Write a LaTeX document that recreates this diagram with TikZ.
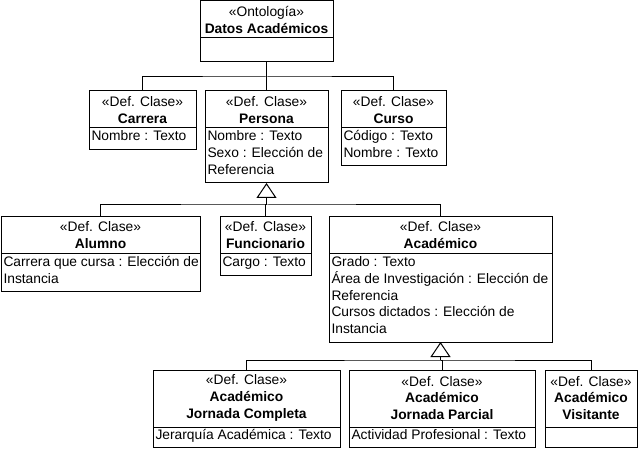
\documentclass[tikz,border=0pt]{standalone}
\usepackage{fontspec}
\setmainfont{Liberation Sans}
\usetikzlibrary{arrows.meta}
\begin{document}
\begin{tikzpicture}[x=1pt,y=-1pt,line width=1pt,
  box/.style={draw,inner sep=0pt,outer sep=0pt},
  t/.style={inner sep=0pt,font=\fontsize{13.8}{16.8}\selectfont,align=center},
  a/.style={inner sep=0pt,font=\fontsize{13.8}{16.8}\selectfont,align=left,anchor=north west},
  gen/.style={-{Triangle[open,length=15pt,width=20pt]}}]
\useasboundingbox (0,0) rectangle (640,449);
\newcommand\ubox[6]{\node[box,minimum width={#4-#2},minimum height={#5-#3}] (#1) at ({(#2+#4)/2},{(#3+#5)/2}) {};
 \draw (#2,#6) -- (#4,#6);}
\ubox{ont}{200}{1}{333}{62}{38}
\node[t] (ontt) at (266.5,20) {«Ontología»\\\textbf{Datos Académicos}};
\ubox{car}{89}{91}{196}{150}{128}
\node[t] (cart) at (142.5,110) {«Def. Clase»\\\textbf{Carrera}};
\node[a] (cara) at (91,130) {Nombre : Texto};
\ubox{per}{205}{91}{328}{183}{128}
\node[t] (pert) at (266.5,110) {«Def. Clase»\\\textbf{Persona}};
\node[a] (pera) at (207,130) {Nombre : Texto\\Sexo : Elección de\\Referencia};
\ubox{cur}{341}{91}{446}{166}{128}
\node[t] (curt) at (393.5,110) {«Def. Clase»\\\textbf{Curso}};
\node[a] (cura) at (343,130) {Código : Texto\\Nombre : Texto};
\ubox{alu}{1}{217}{200}{291}{254}
\node[t] (alut) at (100.5,235) {«Def. Clase»\\\textbf{Alumno}};
\node[a] (alua) at (3,256) {Carrera que cursa : Elección de\\Instancia};
\ubox{fun}{220}{217}{311}{275}{254}
\node[t] (funt) at (265.5,235) {«Def. Clase»\\\textbf{Funcionario}};
\node[a] (funa) at (222,256) {Cargo : Texto};
\ubox{aca}{329}{217}{552}{342}{254}
\node[t] (acat) at (440.5,235) {«Def. Clase»\\\textbf{Académico}};
\node[a] (acaa) at (331,256) {Grado : Texto\\Área de Investigación : Elección de\\Referencia\\Cursos dictados : Elección de\\Instancia};
\ubox{jc}{153}{370}{340}{447}{427}
\node[t] (jct) at (246.5,398) {«Def. Clase»\\\textbf{Académico}\\\textbf{Jornada Completa}};
\node[a] (jca) at (155,429) {Jerarquía Académica : Texto};
\ubox{jp}{349}{370}{535}{447}{427}
\node[t] (jpt) at (442,398) {«Def. Clase»\\\textbf{Académico}\\\textbf{Jornada Parcial}};
\node[a] (jpa) at (351,429) {Actividad Profesional : Texto};
\ubox{vis}{545}{370}{637}{447}{427}
\node[t] (vist) at (591,398) {«Def. Clase»\\\textbf{Académico}\\\textbf{Visitante}};
% ontology composition tree
\coordinate (b1) at (266.5,77);
\draw (ont.south) -- (b1);
\draw (car.north) |- (b1) -| (cur.north);
\draw (b1) -- (per.north);
% generalization Persona
\coordinate (g1) at (266.5,205);
\draw[gen] (g1) -- (per.south);
\draw (alu.north) |- (g1) -| (aca.north);
\draw (g1) -| (fun.north);
% generalization Académico
\coordinate (g2) at (440.5,360);
\draw[gen] (g2) -- (aca.south);
\draw (jc.north) |- (g2) -| (vis.north);
\draw (g2) -| (jp.north);
\end{tikzpicture}
\end{document}
